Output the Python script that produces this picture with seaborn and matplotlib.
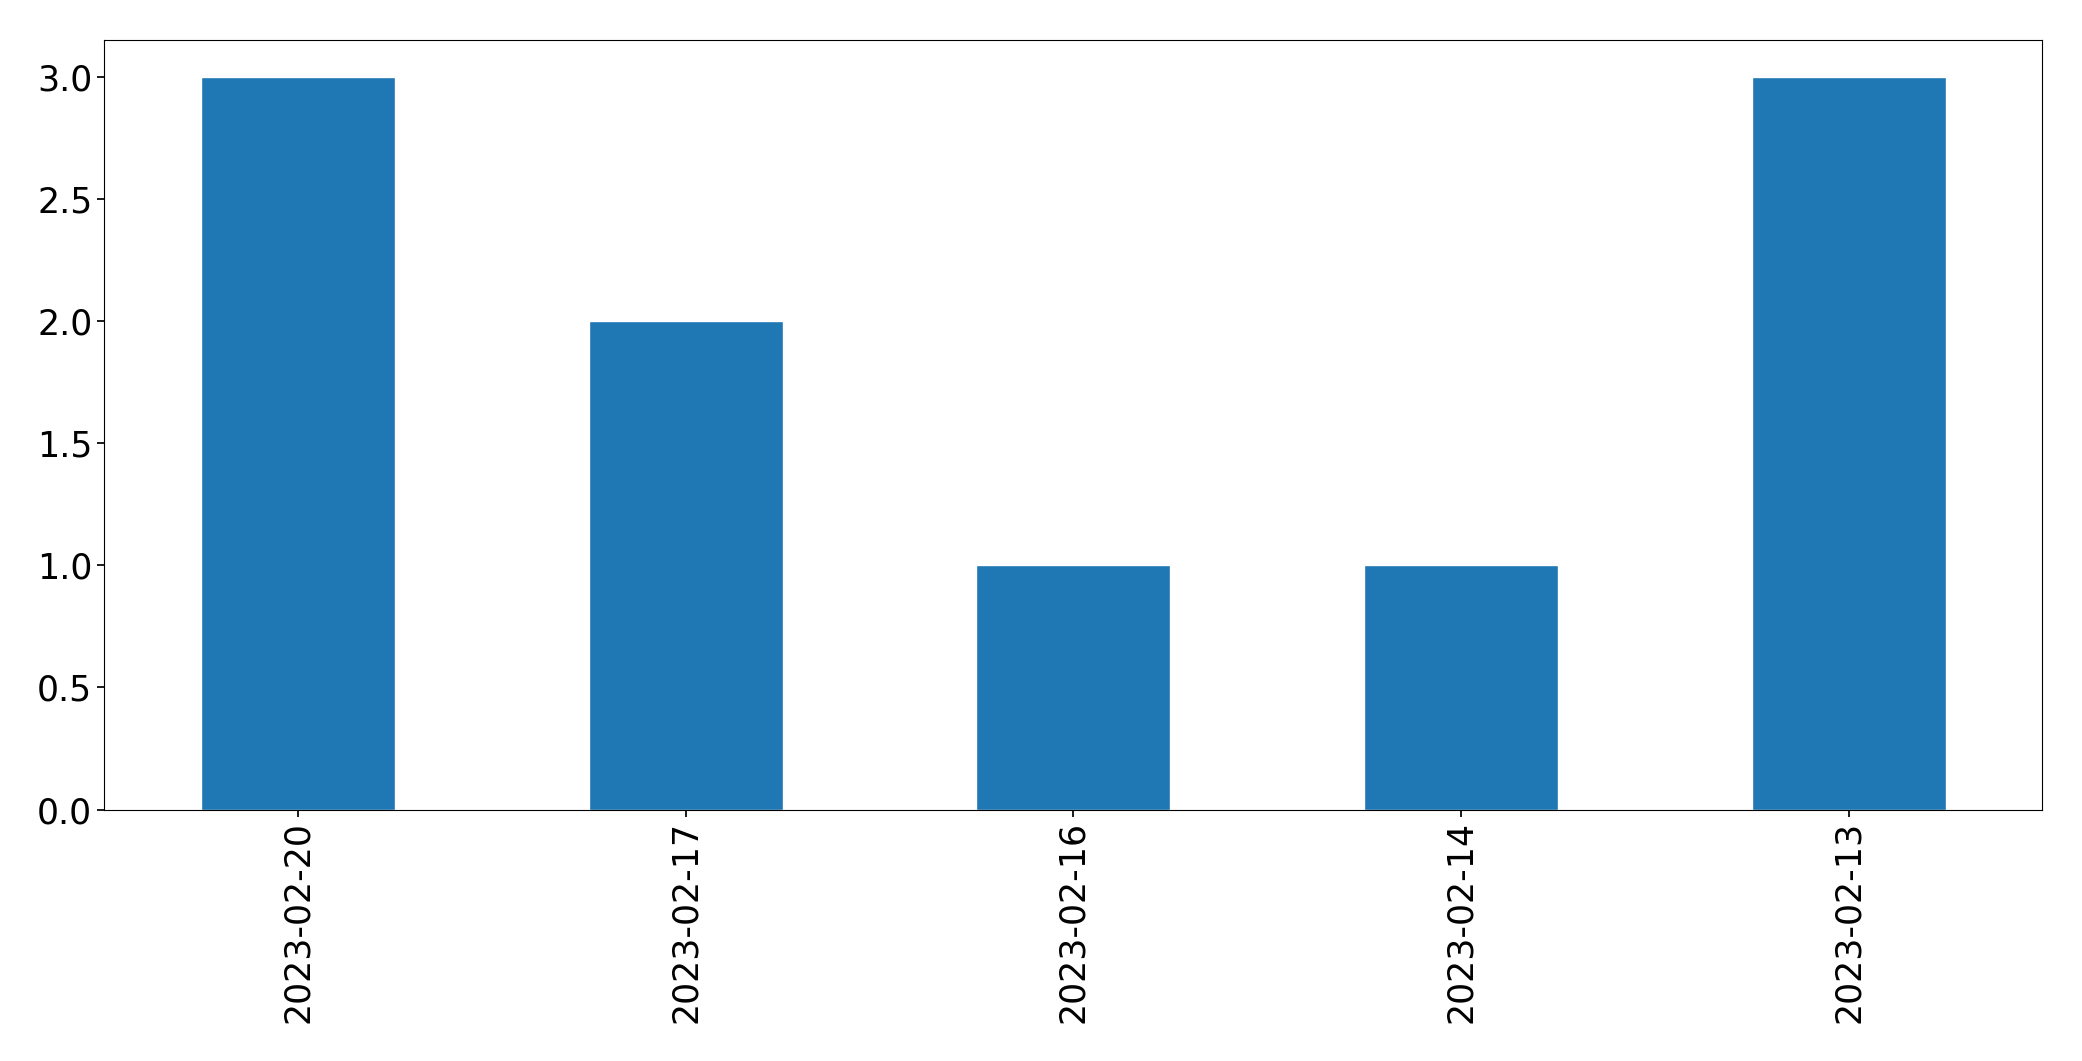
import matplotlib
matplotlib.use("Agg")
import matplotlib.pyplot as plt
import seaborn as sns
import pandas as pd

dates = ["2023-02-20", "2023-02-17", "2023-02-16", "2023-02-14", "2023-02-13"]
counts = [3, 2, 1, 1, 3]

sns.set_theme(style="ticks")
plt.rcParams['font.family'] = ['DejaVu Sans']

df = pd.DataFrame({"date": dates, "count": counts})
fig, ax = plt.subplots(figsize=(20.82, 10.61), dpi=100)
fig.subplots_adjust(left=0.05, right=0.981, top=0.962, bottom=0.237)
sns.barplot(data=df, x="date", y="count", color="#1f77b4", saturation=1, width=0.5, ax=ax)
ax.set_xlim(-0.5, 4.5)
ax.set_ylim(0, 3.15)
ax.set_xlabel("")
ax.set_ylabel("")
ax.tick_params(axis="both", labelsize=25, colors="black", length=5)
ax.tick_params(axis="x", rotation=90)
for s in ax.spines.values():
    s.set_color("black")
    s.set_linewidth(0.8)
fig.savefig("out.png", dpi=100)
